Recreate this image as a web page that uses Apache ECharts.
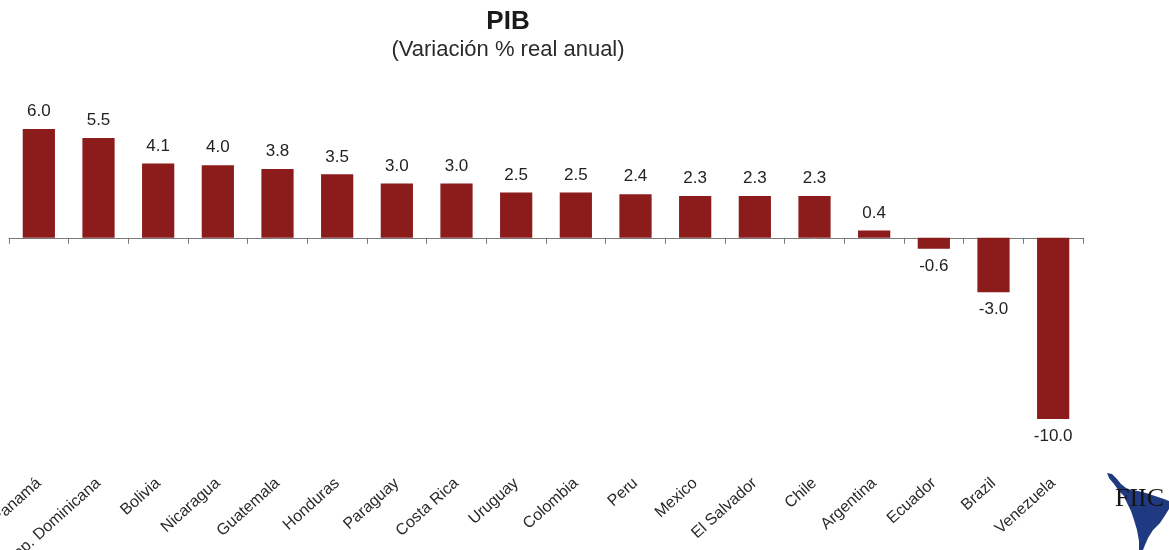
<!DOCTYPE html>
<html>
<head>
<meta charset="utf-8">
<script src="https://cdn.jsdelivr.net/npm/echarts@6/dist/echarts.min.js"></script>
<style>
html,body{margin:0;padding:0;background:#fff;}
#c{width:1169px;height:550px;}
</style>
</head>
<body>
<div id="c"></div>
<script>
var categories = ["Panamá","Rep. Dominicana","Bolivia","Nicaragua","Guatemala","Honduras","Paraguay","Costa Rica","Uruguay","Colombia","Peru","Mexico","El Salvador","Chile","Argentina","Ecuador","Brazil","Venezuela"];
var values = [6.0,5.5,4.1,4.0,3.8,3.5,3.0,3.0,2.5,2.5,2.4,2.3,2.3,2.3,0.4,-0.6,-3.0,-10.0];
var titleText = "PIB";
var subtitleText = "(Variación % real anual)";

var FONT = "'Liberation Sans',Arial,sans-serif";
var chart = echarts.init(document.getElementById('c'), null, {renderer:'canvas'});
chart.setOption({
  animation:false,
  backgroundColor:'#fff',
  title:[
    {text:titleText,left:503,top:4,textAlign:'center',textStyle:{fontFamily:FONT,fontWeight:'bold',fontSize:26,color:'#1a1a1a'}},
    {text:subtitleText,left:503,top:34,textAlign:'center',textStyle:{fontFamily:FONT,fontWeight:'normal',fontSize:22,color:'#2a2a2a'}}
  ],
  grid:{left:9,right:86,top:129,bottom:131,containLabel:false,outerBoundsMode:'none'},
  xAxis:[
    {type:'category',data:categories,position:'bottom',
     axisLine:{onZero:true,lineStyle:{color:'#7a7a7a',width:1}},
     axisTick:{show:true,interval:0,length:6,lineStyle:{color:'#7a7a7a'}},
     axisLabel:{show:false,interval:0},splitLine:{show:false}},
    {type:'category',data:categories,position:'bottom',
     axisLine:{show:false,onZero:false},axisTick:{show:false},
     axisLabel:{show:true,interval:0,rotate:42,margin:62,fontFamily:FONT,fontSize:16,color:'#2a2a2a'},
     splitLine:{show:false}}
  ],
  yAxis:{type:'value',min:-10,max:6,show:false,splitLine:{show:false}},
  series:[{
    type:'bar',xAxisIndex:0,barWidth:'54%',
    data:values.map(function(v){return {value:v,label:{position:v<0?'bottom':'top'}};}),
    itemStyle:{color:'#8c1b1b'},
    label:{show:true,formatter:function(p){return p.value.toFixed(1);},fontFamily:FONT,fontSize:17,color:'#222',distance:9}
  }],
  graphic:[
    {type:'polygon',shape:{points:[[1107,473],[1112,474],[1117,479],[1121,484],[1126,488],[1131,490],[1138,491],[1146,493],[1155,496],[1164,499],[1169,501],[1169,509],[1164,517],[1160,523],[1153,530],[1148,538],[1145,545],[1143,550],[1139,550],[1139,541],[1137,530],[1134,520],[1131,511],[1127,503],[1124,496],[1119,491],[1114,484],[1109,478]]},style:{fill:'#1f3a80'}},
    {type:'text',left:1115,top:486,style:{text:'FIIC',fontFamily:"'Liberation Serif','DejaVu Serif',serif",fontSize:26,fill:'#141414'}}
  ]
});
</script>
</body>
</html>
